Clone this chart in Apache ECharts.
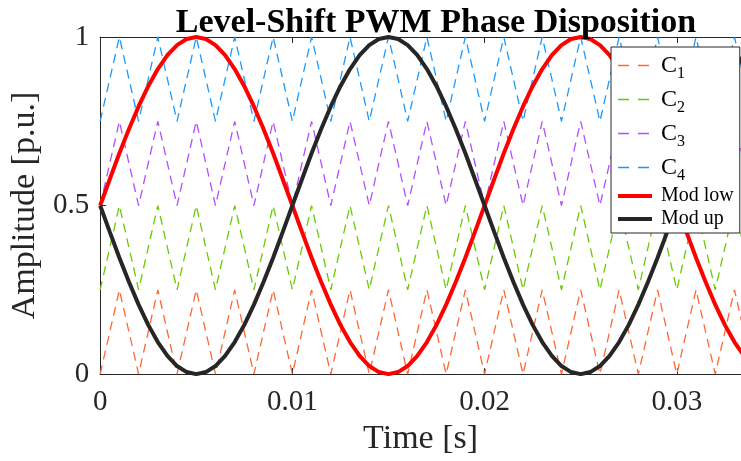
<!DOCTYPE html>
<html>
<head>
<meta charset="utf-8">
<script src="https://cdn.jsdelivr.net/npm/echarts@6/dist/echarts.min.js"></script>
<style>
  html, body { margin: 0; padding: 0; background: #ffffff; }
  #chart { width: 741px; height: 461px; }
</style>
</head>
<body>
<div id="chart"></div>
<script>
// Carrier vertices (s): triangle corners every 1 ms
const carrierTime = [0,0.001,0.002,0.003,0.004,0.005,0.006,0.007,0.008,0.009,0.010,0.011,0.012,0.013,0.014,0.015,0.016,0.017,0.018,0.019,0.020,0.021,0.022,0.023,0.024,0.025,0.026,0.027,0.028,0.029,0.030,0.031,0.032,0.033,0.034];
// Level-shifted carriers, all in phase (p.u.)
const c1 = [0,0.25,0,0.25,0,0.25,0,0.25,0,0.25,0,0.25,0,0.25,0,0.25,0,0.25,0,0.25,0,0.25,0,0.25,0,0.25,0,0.25,0,0.25,0,0.25,0,0.25,0];
const c2 = [0.25,0.5,0.25,0.5,0.25,0.5,0.25,0.5,0.25,0.5,0.25,0.5,0.25,0.5,0.25,0.5,0.25,0.5,0.25,0.5,0.25,0.5,0.25,0.5,0.25,0.5,0.25,0.5,0.25,0.5,0.25,0.5,0.25,0.5,0.25];
const c3 = [0.5,0.75,0.5,0.75,0.5,0.75,0.5,0.75,0.5,0.75,0.5,0.75,0.5,0.75,0.5,0.75,0.5,0.75,0.5,0.75,0.5,0.75,0.5,0.75,0.5,0.75,0.5,0.75,0.5,0.75,0.5,0.75,0.5,0.75,0.5];
const c4 = [0.75,1,0.75,1,0.75,1,0.75,1,0.75,1,0.75,1,0.75,1,0.75,1,0.75,1,0.75,1,0.75,1,0.75,1,0.75,1,0.75,1,0.75,1,0.75,1,0.75,1,0.75];

// Modulating signals, sampled every 0.5 ms
const modTime = [0,0.0005,0.001,0.0015,0.002,0.0025,0.003,0.0035,0.004,0.0045,0.005,0.0055,0.006,0.0065,0.007,0.0075,0.008,0.0085,0.009,0.0095,0.010,0.0105,0.011,0.0115,0.012,0.0125,0.013,0.0135,0.014,0.0145,0.015,0.0155,0.016,0.0165,0.017,0.0175,0.018,0.0185,0.019,0.0195,0.020,0.0205,0.021,0.0215,0.022,0.0225,0.023,0.0235,0.024,0.0245,0.025,0.0255,0.026,0.0265,0.027,0.0275,0.028,0.0285,0.029,0.0295,0.030,0.0305,0.031,0.0315,0.032,0.0325,0.033,0.0335,0.034];
const modLow = [0.5,0.578,0.655,0.727,0.794,0.854,0.905,0.946,0.976,0.994,1,
  0.994,0.976,0.946,0.905,0.854,0.794,0.727,0.655,0.578,0.5,
  0.422,0.345,0.273,0.206,0.146,0.095,0.054,0.024,0.006,0,
  0.006,0.024,0.054,0.095,0.146,0.206,0.273,0.345,0.422,0.5,
  0.578,0.655,0.727,0.794,0.854,0.905,0.946,0.976,0.994,1,
  0.994,0.976,0.946,0.905,0.854,0.794,0.727,0.655,0.578,0.5,
  0.422,0.345,0.273,0.206,0.146,0.095,0.054,0.024];
const modUp = [0.5,0.422,0.345,0.273,0.206,0.146,0.095,0.054,0.024,0.006,0,
  0.006,0.024,0.054,0.095,0.146,0.206,0.273,0.345,0.422,0.5,
  0.578,0.655,0.727,0.794,0.854,0.905,0.946,0.976,0.994,1,
  0.994,0.976,0.946,0.905,0.854,0.794,0.727,0.655,0.578,0.5,
  0.422,0.345,0.273,0.206,0.146,0.095,0.054,0.024,0.006,0,
  0.006,0.024,0.054,0.095,0.146,0.206,0.273,0.345,0.422,0.5,
  0.578,0.655,0.727,0.794,0.854,0.905,0.946,0.976];

const seriesNames = ['C1', 'C2', 'C3', 'C4', 'Mod low', 'Mod up'];
const seriesColors = ['#FF6633', '#66CC00', '#B34DFF', '#1A99FF', '#FF0000', '#262626'];
const xTickLabels = ['0', '0.01', '0.02', '0.03'];
const yTickLabels = ['0', '0.5', '1'];

const FONT = 'Liberation Serif';
const AXIS_COLOR = '#262626';

function pairs(t, v) { return t.map((x, i) => [x, v[i]]); }

function carrier(i, values) {
  const color = seriesColors[i];
  return {
    name: seriesNames[i], type: 'line', data: pairs(carrierTime, values),
    symbol: 'none', silent: true, clip: true, z: 2,
    lineStyle: { color, width: 1.3, type: [9, 6] },
    itemStyle: { color }
  };
}
function modulation(i, values) {
  const color = seriesColors[i];
  return {
    name: seriesNames[i], type: 'line', data: pairs(modTime, values),
    symbol: 'none', silent: true, clip: true, z: 3,
    lineStyle: { color, width: 4 },
    itemStyle: { color }
  };
}

// Legend samples: two-dash strokes for the carriers, thick solid for the references
const legendData = seriesNames.map((name, i) => ({
  name,
  itemStyle: { opacity: 0 },
  lineStyle: i < 4
    ? { color: seriesColors[i], width: 1.3, type: [11, 9] }
    : { color: seriesColors[i], width: 4, type: 'solid' }
}));

const chart = echarts.init(document.getElementById('chart'), null, { renderer: 'canvas' });

const tickCommon = { show: true, inside: true, length: 6, lineStyle: { color: AXIS_COLOR } };

chart.setOption({
  animation: false,
  backgroundColor: '#ffffff',
  title: {
    text: 'Level-Shift PWM Phase Disposition',
    left: 431, top: 1, textAlign: 'center',
    textStyle: { fontFamily: FONT, fontSize: 34, fontWeight: 'bold', color: '#000000' }
  },
  grid: { left: 97, right: 0, top: 37, bottom: 86 },
  xAxis: [{
    type: 'value', min: 0, max: 0.03334, interval: 0.01,
    name: 'Time [s]', nameLocation: 'middle', nameGap: 44,
    nameTextStyle: { fontFamily: FONT, fontSize: 34, color: AXIS_COLOR },
    axisLine: { show: true, onZero: false, lineStyle: { color: AXIS_COLOR, width: 1 } },
    axisTick: tickCommon,
    splitLine: { show: false },
    axisLabel: {
      fontFamily: FONT, fontSize: 29, color: AXIS_COLOR, margin: 14, showMaxLabel: false,
      formatter: v => xTickLabels[Math.round(v / 0.01)] || ''
    }
  }, {
    type: 'value', position: 'top', min: 0, max: 0.03334, interval: 0.01,
    axisLine: { show: true, onZero: false, lineStyle: { color: AXIS_COLOR, width: 1 } },
    axisTick: tickCommon,
    axisLabel: { show: false }, splitLine: { show: false }
  }],
  yAxis: [{
    type: 'value', min: 0, max: 1, interval: 0.5,
    name: 'Amplitude [p.u.]', nameLocation: 'middle', nameGap: 44,
    nameTextStyle: { fontFamily: FONT, fontSize: 34, color: AXIS_COLOR },
    axisLine: { show: true, onZero: false, lineStyle: { color: AXIS_COLOR, width: 1 } },
    axisTick: tickCommon,
    splitLine: { show: false },
    axisLabel: {
      fontFamily: FONT, fontSize: 29, color: AXIS_COLOR, margin: 11,
      formatter: v => yTickLabels[Math.round(v / 0.5)] || ''
    }
  }],
  legend: {
    orient: 'vertical', left: 611, top: 47,
    data: legendData,
    itemWidth: 34, itemHeight: 14, itemGap: 1,
    padding: [2, 6, 3, 5],
    backgroundColor: '#ffffff', borderColor: AXIS_COLOR, borderWidth: 1, borderRadius: 0,
    selectedMode: false,
    itemStyle: { opacity: 0 },
    formatter: name => {
      const m = /^C(\d)$/.exec(name);
      return m ? '{c|C}{s|' + m[1] + '}' : '{m|' + name + '}';
    },
    textStyle: {
      fontFamily: FONT, color: '#000000',
      rich: {
        c: { fontFamily: FONT, fontSize: 24, lineHeight: 28, padding: [0, 0, 0, 4], color: '#000000' },
        s: { fontFamily: FONT, fontSize: 16, lineHeight: 16, padding: [17, 0, 0, 0], color: '#000000' },
        m: { fontFamily: FONT, fontSize: 20, lineHeight: 22, padding: [1, 0, 1, 4], color: '#000000' }
      }
    }
  },
  series: [
    carrier(0, c1),
    carrier(1, c2),
    carrier(2, c3),
    carrier(3, c4),
    modulation(4, modLow),
    modulation(5, modUp)
  ]
});
</script>
</body>
</html>
